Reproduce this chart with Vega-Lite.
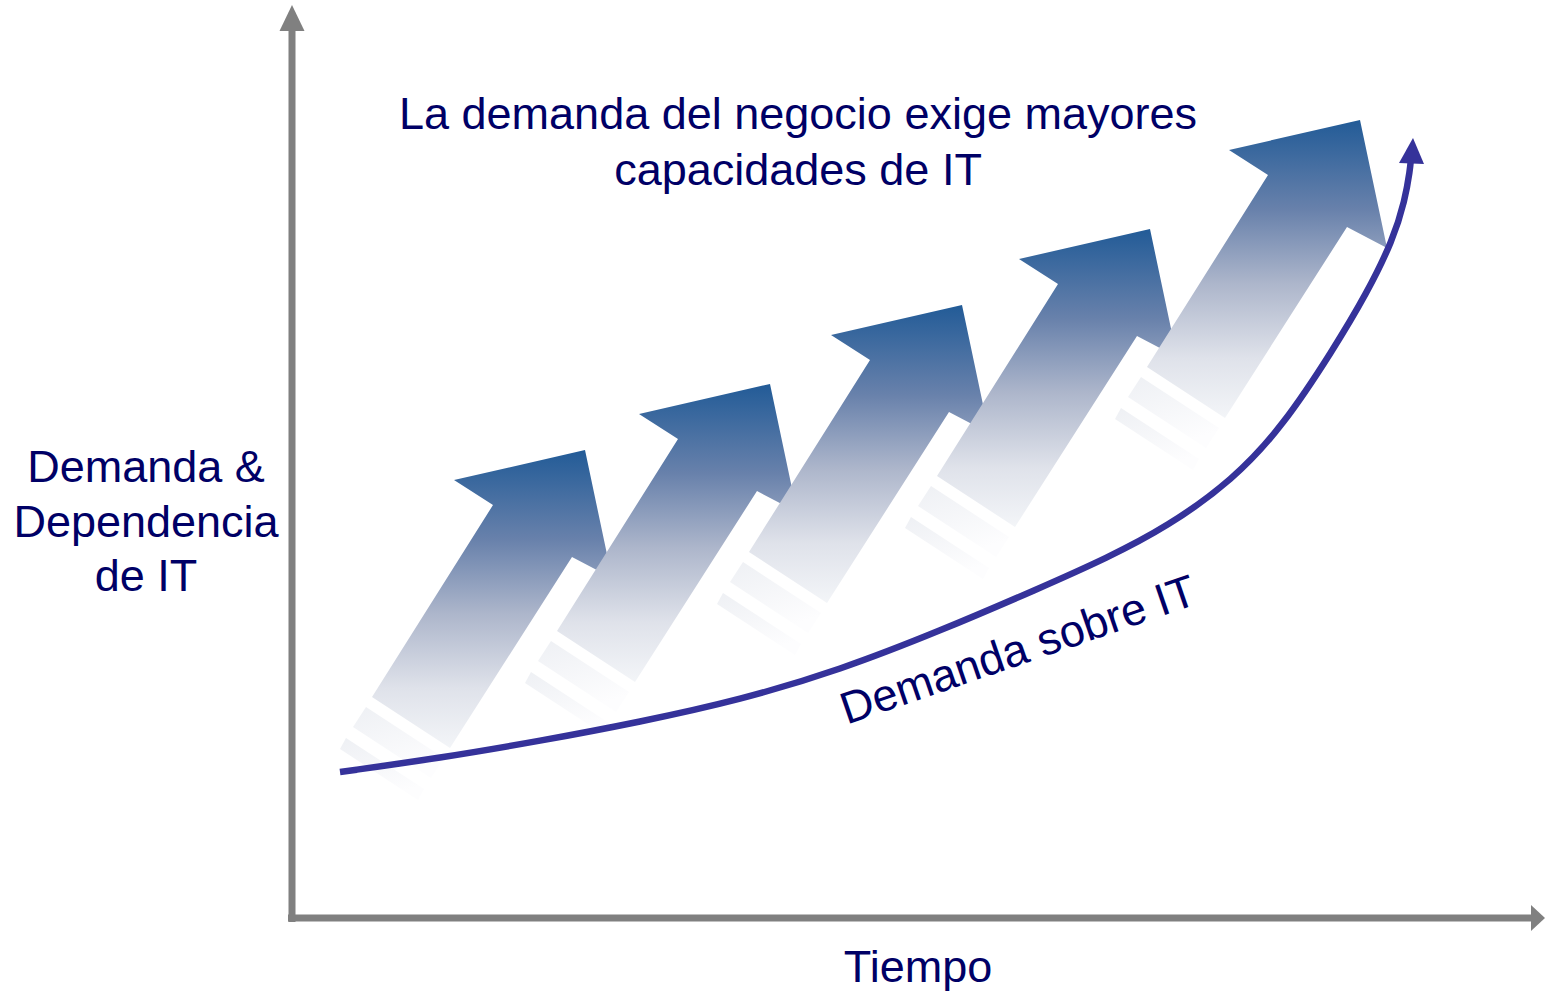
{
  "$schema": "https://vega.github.io/schema/vega-lite/v6.json",
  "width": 1545,
  "height": 994,
  "padding": 0,
  "autosize": {"type": "fit", "contains": "padding"},
  "background": "white",
  "config": {"view": {"stroke": null}},
  "datasets": {
    "arrows": [
      {"id": 1, "i": 1, "x": 585, "y": 450}, {"id": 1, "i": 2, "x": 612, "y": 578}, {"id": 1, "i": 3, "x": 572, "y": 557}, {"id": 1, "i": 4, "x": 450, "y": 748}, {"id": 1, "i": 5, "x": 372, "y": 697}, {"id": 1, "i": 6, "x": 493, "y": 505}, {"id": 1, "i": 7, "x": 454, "y": 480},
      {"id": 2, "i": 1, "x": 770, "y": 384}, {"id": 2, "i": 2, "x": 797, "y": 512}, {"id": 2, "i": 3, "x": 757, "y": 491}, {"id": 2, "i": 4, "x": 635, "y": 682}, {"id": 2, "i": 5, "x": 557, "y": 631}, {"id": 2, "i": 6, "x": 678, "y": 439}, {"id": 2, "i": 7, "x": 639, "y": 414},
      {"id": 3, "i": 1, "x": 962, "y": 305}, {"id": 3, "i": 2, "x": 989, "y": 433}, {"id": 3, "i": 3, "x": 949, "y": 412}, {"id": 3, "i": 4, "x": 827, "y": 603}, {"id": 3, "i": 5, "x": 749, "y": 552}, {"id": 3, "i": 6, "x": 870, "y": 360}, {"id": 3, "i": 7, "x": 831, "y": 335},
      {"id": 4, "i": 1, "x": 1150, "y": 229}, {"id": 4, "i": 2, "x": 1177, "y": 357}, {"id": 4, "i": 3, "x": 1137, "y": 336}, {"id": 4, "i": 4, "x": 1015, "y": 527}, {"id": 4, "i": 5, "x": 937, "y": 476}, {"id": 4, "i": 6, "x": 1058, "y": 284}, {"id": 4, "i": 7, "x": 1019, "y": 259},
      {"id": 5, "i": 1, "x": 1360, "y": 120}, {"id": 5, "i": 2, "x": 1387, "y": 248}, {"id": 5, "i": 3, "x": 1347, "y": 227}, {"id": 5, "i": 4, "x": 1225, "y": 418}, {"id": 5, "i": 5, "x": 1147, "y": 367}, {"id": 5, "i": 6, "x": 1268, "y": 175}, {"id": 5, "i": 7, "x": 1229, "y": 150}
    ],
    "stripes": [
      {"id": "1a", "i": 1, "x": 366, "y": 707}, {"id": "1a", "i": 2, "x": 444, "y": 758}, {"id": "1a", "i": 3, "x": 431, "y": 778}, {"id": "1a", "i": 4, "x": 353, "y": 727},
      {"id": "1b", "i": 1, "x": 346, "y": 738}, {"id": "1b", "i": 2, "x": 424, "y": 789}, {"id": "1b", "i": 3, "x": 418, "y": 800}, {"id": "1b", "i": 4, "x": 340, "y": 749},
      {"id": "2a", "i": 1, "x": 551, "y": 641}, {"id": "2a", "i": 2, "x": 629, "y": 692}, {"id": "2a", "i": 3, "x": 616, "y": 712}, {"id": "2a", "i": 4, "x": 538, "y": 661},
      {"id": "2b", "i": 1, "x": 531, "y": 672}, {"id": "2b", "i": 2, "x": 609, "y": 723}, {"id": "2b", "i": 3, "x": 603, "y": 734}, {"id": "2b", "i": 4, "x": 525, "y": 683},
      {"id": "3a", "i": 1, "x": 743, "y": 562}, {"id": "3a", "i": 2, "x": 821, "y": 613}, {"id": "3a", "i": 3, "x": 808, "y": 633}, {"id": "3a", "i": 4, "x": 730, "y": 582},
      {"id": "3b", "i": 1, "x": 723, "y": 593}, {"id": "3b", "i": 2, "x": 801, "y": 644}, {"id": "3b", "i": 3, "x": 795, "y": 655}, {"id": "3b", "i": 4, "x": 717, "y": 604},
      {"id": "4a", "i": 1, "x": 931, "y": 486}, {"id": "4a", "i": 2, "x": 1009, "y": 537}, {"id": "4a", "i": 3, "x": 996, "y": 557}, {"id": "4a", "i": 4, "x": 918, "y": 506},
      {"id": "4b", "i": 1, "x": 911, "y": 517}, {"id": "4b", "i": 2, "x": 989, "y": 568}, {"id": "4b", "i": 3, "x": 983, "y": 579}, {"id": "4b", "i": 4, "x": 905, "y": 528},
      {"id": "5a", "i": 1, "x": 1141, "y": 377}, {"id": "5a", "i": 2, "x": 1219, "y": 428}, {"id": "5a", "i": 3, "x": 1206, "y": 448}, {"id": "5a", "i": 4, "x": 1128, "y": 397},
      {"id": "5b", "i": 1, "x": 1121, "y": 408}, {"id": "5b", "i": 2, "x": 1199, "y": 459}, {"id": "5b", "i": 3, "x": 1193, "y": 470}, {"id": "5b", "i": 4, "x": 1115, "y": 419}
    ],
    "axes": [
      {"x": 292, "y": 922, "x2": 292, "y2": 28},
      {"x": 288, "y": 918, "x2": 1533, "y2": 918}
    ],
    "axisHeads": [
      {"id": "v", "i": 1, "x": 292, "y": 5}, {"id": "v", "i": 2, "x": 304.5, "y": 31}, {"id": "v", "i": 3, "x": 279.5, "y": 31},
      {"id": "h", "i": 1, "x": 1545, "y": 918}, {"id": "h", "i": 2, "x": 1531, "y": 905}, {"id": "h", "i": 3, "x": 1531, "y": 931}
    ],
    "curve": [
      {"i": 1, "x": 340, "y": 772}, {"i": 2, "x": 440, "y": 758}, {"i": 3, "x": 540, "y": 741}, {"i": 4, "x": 640, "y": 722},
      {"i": 5, "x": 740, "y": 700}, {"i": 6, "x": 840, "y": 670}, {"i": 7, "x": 940, "y": 631}, {"i": 8, "x": 1040, "y": 588},
      {"i": 9, "x": 1107, "y": 558}, {"i": 10, "x": 1167, "y": 527}, {"i": 11, "x": 1233, "y": 480}, {"i": 12, "x": 1283, "y": 426},
      {"i": 13, "x": 1333, "y": 350}, {"i": 14, "x": 1367, "y": 293}, {"i": 15, "x": 1393, "y": 240}, {"i": 16, "x": 1405, "y": 200},
      {"i": 17, "x": 1410, "y": 170}, {"i": 18, "x": 1411, "y": 158}
    ],
    "curveHead": [
      {"i": 1, "x": 1413, "y": 138}, {"i": 2, "x": 1424, "y": 164}, {"i": 3, "x": 1399, "y": 163}
    ],
    "labels": [
      {"x": 798, "y": 129, "t": "La demanda del negocio exige mayores"},
      {"x": 798, "y": 185, "t": "capacidades de IT"},
      {"x": 146, "y": 482, "t": "Demanda &"},
      {"x": 146, "y": 537, "t": "Dependencia"},
      {"x": 146, "y": 591, "t": "de IT"},
      {"x": 918, "y": 982, "t": "Tiempo"}
    ],
    "rotLabels": [
      {"x": 1023, "y": 664, "t": "Demanda sobre IT"}
    ]
  },
  "encoding": {
    "x": {"field": "x", "type": "quantitative", "scale": {"domain": [0, 1545], "nice": false, "zero": false}, "axis": null},
    "y": {"field": "y", "type": "quantitative", "scale": {"domain": [0, 994], "reverse": true, "nice": false, "zero": false}, "axis": null}
  },
  "layer": [
    {
      "data": {"name": "stripes"},
      "mark": {
        "type": "line", "interpolate": "linear-closed", "strokeWidth": 0,
        "fill": {"gradient": "linear", "x1": 0, "y1": 0, "x2": 0.4, "y2": 1, "stops": [{"offset": 0, "color": "#eef0f4"}, {"offset": 1, "color": "#fdfdfe"}]}
      },
      "encoding": {"detail": {"field": "id"}, "order": {"field": "i", "type": "quantitative"}}
    },
    {
      "data": {"name": "arrows"},
      "mark": {
        "type": "line", "interpolate": "linear-closed", "strokeWidth": 0,
        "fill": {"gradient": "linear", "x1": 0, "y1": 0, "x2": 0, "y2": 1, "stops": [
          {"offset": 0, "color": "#225b97"},
          {"offset": 0.3, "color": "#6881ab"},
          {"offset": 0.55, "color": "#adb6cb"},
          {"offset": 0.8, "color": "#dfe2ea"},
          {"offset": 1, "color": "#f3f5f8"}
        ]}
      },
      "encoding": {"detail": {"field": "id"}, "order": {"field": "i", "type": "quantitative"}}
    },
    {
      "data": {"name": "axes"},
      "mark": {"type": "rule", "color": "#808080", "strokeWidth": 7},
      "encoding": {"x2": {"field": "x2"}, "y2": {"field": "y2"}}
    },
    {
      "data": {"name": "axisHeads"},
      "mark": {"type": "line", "interpolate": "linear-closed", "strokeWidth": 0, "fill": "#808080"},
      "encoding": {"detail": {"field": "id"}, "order": {"field": "i", "type": "quantitative"}}
    },
    {
      "data": {"name": "curve"},
      "mark": {"type": "line", "interpolate": "basis", "color": "#35329a", "strokeWidth": 6.5},
      "encoding": {"order": {"field": "i", "type": "quantitative"}}
    },
    {
      "data": {"name": "curveHead"},
      "mark": {"type": "line", "interpolate": "linear-closed", "strokeWidth": 0, "fill": "#35329a"},
      "encoding": {"order": {"field": "i", "type": "quantitative"}}
    },
    {
      "data": {"name": "labels"},
      "mark": {"type": "text", "font": "Liberation Sans", "fontSize": 45, "color": "#000066", "align": "center", "baseline": "alphabetic"},
      "encoding": {"text": {"field": "t"}}
    },
    {
      "data": {"name": "rotLabels"},
      "mark": {"type": "text", "font": "Liberation Sans", "fontSize": 45, "color": "#000066", "align": "center", "baseline": "alphabetic", "angle": 341},
      "encoding": {"text": {"field": "t"}}
    }
  ]
}
